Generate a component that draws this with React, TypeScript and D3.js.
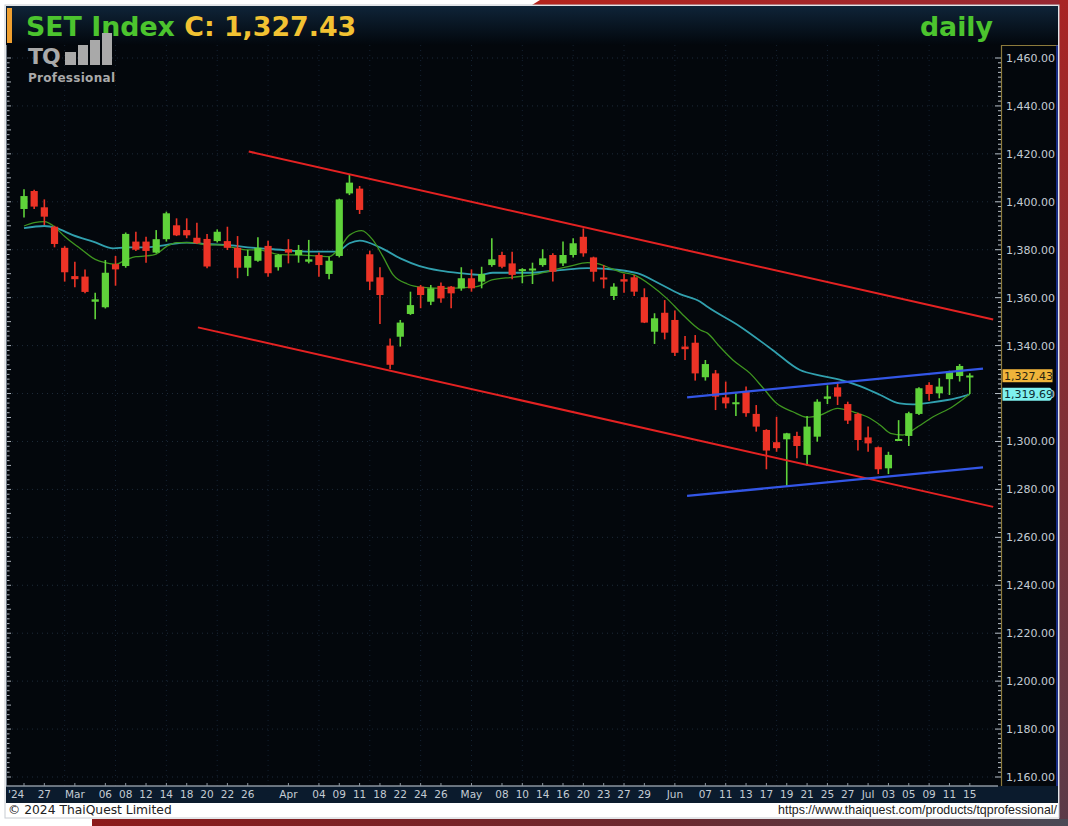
import React from "react";
import * as d3 from "d3";

const W = 1068;
const H = 826;

// ---- data ----
const openVals = [1397,1404.5,1397.7,1389.6,1380.8,1369,1368.8,1358.3,1356,1374,1373.2,1383.4,1383.4,1378.8,1384.4,1390.2,1388.2,1385,1384.5,1383.6,1383.6,1380.8,1372.5,1375.4,1381.6,1372.7,1380.2,1377.8,1375,1377.8,1369.9,1377.4,1403.5,1405.5,1378.1,1368.5,1340,1343.7,1353.2,1364.6,1358.3,1364.9,1364.6,1363.9,1368.1,1366.7,1373.6,1377.8,1374.3,1371.2,1371.5,1373.6,1377.8,1374.3,1377.8,1385.4,1376.8,1368.3,1360.7,1367.7,1368.5,1360.2,1345.8,1353.7,1350.7,1339.6,1341.2,1326.8,1328.4,1318.4,1315.6,1320.8,1311.5,1304.8,1299.7,1300.9,1302.3,1294.4,1302,1317.8,1322.6,1315.6,1311.5,1301.7,1297.6,1288.8,1300.3,1302.3,1311.5,1323.6,1320.1,1326,1327.3,1326.8];
const highVals = [1405.2,1405,1401,1390,1381.5,1375,1371.8,1362,1375.7,1377.4,1387.2,1387.5,1385.4,1388.2,1395.9,1393.1,1393.1,1391.3,1386.6,1388.5,1389.6,1385.7,1379.9,1385.2,1383.8,1378.2,1384.4,1382,1384.1,1378.8,1377.1,1401.3,1411.2,1406.6,1379.6,1372.7,1343,1350.7,1362.5,1365.3,1365.3,1366.3,1364.9,1372.7,1371.8,1372.9,1384.8,1379.2,1379.2,1372.3,1374.6,1380.2,1378.5,1383.4,1384.8,1388.9,1377.1,1373.6,1366,1369.9,1369.5,1363.9,1353.5,1359,1354.6,1344,1344.4,1334,1329.8,1325,1320.1,1322.9,1315.2,1305.1,1310.3,1303.6,1304.1,1310.6,1317.6,1323.4,1324.3,1316.6,1312,1306.2,1297.9,1295.7,1308.9,1312.4,1322.6,1324.7,1326.4,1329.5,1332.3,1328.5];
const lowVals = [1393.5,1397,1390.3,1381,1366.7,1364.3,1361.8,1351,1355.5,1365,1372.5,1379.5,1374.6,1378.5,1383.4,1385.7,1384.8,1382.4,1372.3,1383,1379.9,1368.1,1369,1375,1368.7,1371.3,1374.3,1374.6,1374.3,1368.7,1367.7,1376.8,1402.8,1394.9,1363.2,1349,1330.1,1339.6,1352.8,1355.6,1356.9,1357.9,1355.6,1362.9,1362.5,1363.9,1372.9,1372.3,1367.7,1366,1365.7,1372.9,1366.7,1373.2,1376.8,1377.1,1366.7,1363.9,1359,1362.1,1360.7,1349.4,1340.7,1342.6,1335.7,1334,1325.4,1325.4,1313.1,1313.8,1310.6,1310.3,1304.1,1288.4,1295.7,1281.1,1293,1289.8,1299.9,1315.6,1315.2,1307.3,1296.2,1295.7,1286.4,1286.4,1300.3,1298.1,1311,1317,1318,1319.4,1325,1319.8];
const closeVals = [1402.4,1398,1393.8,1382.4,1370.6,1367.7,1362.4,1359.3,1370.4,1371.8,1386.6,1380,1379.5,1384.4,1395.2,1386,1386,1382.7,1373,1387.5,1380.8,1372.5,1377.4,1380.8,1370.2,1377.8,1378.8,1379.9,1376,1373.6,1375.4,1401,1408,1396.6,1366.7,1361.1,1332,1349.6,1356.9,1361.1,1363.9,1359.7,1361.8,1368.1,1363.9,1369.9,1376,1372.9,1369.5,1371.8,1372,1376.4,1370.8,1377.8,1382.7,1378.5,1370.8,1367.7,1364.6,1366.7,1362.5,1349.6,1351.4,1345.4,1337,1338.5,1328.4,1332.3,1318.7,1315.9,1316.3,1311.8,1306.2,1296.2,1297.2,1303.4,1298.1,1306.2,1316.6,1318.8,1318.7,1308.7,1300.6,1299.2,1288.4,1294.4,1300.9,1311.8,1322.2,1319.8,1322.9,1329.1,1331.5,1327.43];

// fast moving average (green), [candle index, value]
const maFast: [number, number][] = [[0,1389.9],[1,1391.3],[2,1391.7],[3,1389.6],[4,1385.5],[5.5,1380.6],[7,1376],[8,1374.6],[9,1373.9],[10,1375.7],[11,1377.1],[12,1377.4],[13,1378.2],[14,1381.3],[15,1383],[16.6,1383],[18,1382],[19,1382],[20.5,1381],[22,1379.9],[23,1379.9],[25,1378.1],[27,1377.8],[29,1377.4],[30,1377.1],[31,1380.6],[32,1386.1],[33.2,1388.0],[34.3,1384.1],[35.3,1377.1],[36.3,1369.5],[37.7,1365.7],[39.2,1364.3],[41.6,1363.9],[44.5,1364.6],[46,1367.4],[48,1368.5],[50,1369.5],[52,1371.5],[53.7,1373.2],[55.4,1374.6],[56.3,1374.3],[57.3,1372.9],[58.6,1370.8],[60,1369.5],[61.6,1365.3],[63.2,1359.7],[64.8,1352.8],[66.5,1346.5],[67.2,1345.2],[68.4,1339.6],[69.7,1334],[71.4,1328.4],[72.7,1322.2],[74,1315.9],[75.6,1312.4],[77,1310.1],[78.3,1311],[80,1313.8],[81.5,1312.4],[82.9,1310.3],[84.2,1306.8],[85.2,1303.4],[86.4,1302.7],[87.8,1305.9],[89.4,1310.3],[91.3,1314.5],[93,1319.8]];
// slow moving average (cyan)
const maSlow: [number, number][] = [[0,1389],[2,1389.9],[3.2,1389],[4.8,1386.1],[6.8,1383.4],[8.8,1380.6],[10.1,1381],[12.1,1381],[14,1382],[16,1383],[18,1382.4],[20,1382],[22,1381],[23.2,1380.6],[24.5,1380.2],[28.4,1379.2],[30.8,1379.2],[32,1382.7],[33,1383.8],[35,1381],[37,1376.4],[38.9,1373.2],[40.9,1371.3],[42.9,1370.2],[44.8,1369.5],[46.1,1370.4],[49.5,1370.4],[52.7,1371.5],[55.4,1372.3],[57.3,1372],[60.3,1370.2],[62.5,1365.8],[64.5,1361.5],[66.5,1358.3],[67.2,1356.2],[70.4,1348],[73.6,1338.2],[76.3,1329.8],[78.3,1327.5],[80.2,1325.8],[82.2,1323.1],[84.2,1319.4],[86.1,1315.9],[87.4,1315.5],[89.1,1316.2],[90.8,1317.3],[92,1318.4],[93,1319.7]];

// trend lines [index, value]
const channelUpper: [number, number][] = [[22.1,1421.0],[95.3,1350.9]];
const channelLower: [number, number][] = [[17.1,1347.6],[95.3,1272.7]];
const rangeUpper: [number, number][] = [[65.2,1318.4],[94.3,1330.4]];
const rangeLower: [number, number][] = [[65.2,1277.3],[94.3,1289.2]];

const dateLabels: [number, string][] = [[0,"'24"],[2,"27"],[5,"Mar"],[8,"06"],[10,"08"],[12,"12"],[14,"14"],[16,"18"],[18,"20"],[20,"22"],[22,"26"],[26,"Apr"],[29,"04"],[31,"09"],[33,"11"],[35,"18"],[37,"22"],[39,"24"],[41,"26"],[44,"May"],[47,"08"],[49,"10"],[51,"14"],[53,"16"],[55,"20"],[57,"23"],[59,"27"],[61,"29"],[64,"Jun"],[67,"07"],[69,"11"],[71,"13"],[73,"17"],[75,"19"],[77,"21"],[79,"25"],[81,"27"],[83,"Jul"],[85,"03"],[87,"05"],[89,"09"],[91,"11"],[93,"15"]];
const priceTicks = [1160,1180,1200,1220,1240,1260,1280,1300,1320,1340,1360,1380,1400,1420,1440,1460];
const lastClose = 1327.43;
const lastMa = 1319.69;

// ---- scales ----
const x = d3.scaleLinear().domain([0, 93]).range([24, 969.8]);
const y = d3.scaleLinear().domain([1160, 1460]).range([777, 58]);

const UP = "#5fd23a";
const DOWN = "#ec3326";
const fmt = d3.format(",.2f");
const axisFont = "'DejaVu Sans', Verdana, sans-serif";
const titleFont = "'DejaVu Sans', 'Open Sans', sans-serif";

export default function App() {
  const lineGen = d3.line<[number, number]>().x(d => x(d[0])).y(d => y(d[1])).curve(d3.curveMonotoneX);
  const straight = d3.line<[number, number]>().x(d => x(d[0])).y(d => y(d[1]));
  const minorTicks = d3.range(1160, 1462, 2);

  return (
    <div style={{ position: "absolute", left: 0, top: 0, width: W, height: H }}>
      <svg width={W} height={H} style={{ display: "block" }}>
        <defs>
          <linearGradient id="titleGrad" x1="0" y1="0" x2="0" y2="1">
            <stop offset="0" stopColor="#0f2438" />
            <stop offset="1" stopColor="#02060b" />
          </linearGradient>
          <linearGradient id="bottomBand" x1="0" y1="0" x2="1" y2="0">
            <stop offset="0" stopColor="#8c1b1b" />
            <stop offset="0.6" stopColor="#6a2a30" />
            <stop offset="1" stopColor="#4a4a56" />
          </linearGradient>
          <linearGradient id="rightBand" x1="0" y1="0" x2="0" y2="1">
            <stop offset="0" stopColor="#a82424" />
            <stop offset="1" stopColor="#5a3a48" />
          </linearGradient>
          <linearGradient id="topBand" x1="0" y1="0" x2="1" y2="0">
            <stop offset="0" stopColor="#b4241c" />
            <stop offset="1" stopColor="#962832" />
          </linearGradient>
          <clipPath id="plotClip">
            <rect x={10} y={45} width={990} height={741} />
          </clipPath>
        </defs>

        {/* page frame */}
        <rect x={0} y={0} width={W} height={H} fill="#ffffff" />
        <polygon points={`532,5 540,0 ${W},0 ${W},5`} fill="url(#topBand)" />
        <rect x={1059} y={0} width={9} height={H} fill="url(#rightBand)" />
        <rect x={92} y={819} width={W - 92} height={7} fill="url(#bottomBand)" />

        {/* panel */}
        <rect x={5} y={5} width={1054} height={813} fill="#ffffff" stroke="#c8ccd2" strokeWidth={1} />
        <rect x={6} y={6} width={1052} height={40} fill="url(#titleGrad)" />
        <rect x={6} y={45} width={1052} height={741} fill="#03070c" />

        {/* grid */}
        <g clipPath="url(#plotClip)">
          {priceTicks.map(t => (
            <line key={"hg" + t} x1={12} x2={998} y1={y(t)} y2={y(t)} stroke="#1d2b3a" strokeWidth={1} strokeDasharray="1,4" />
          ))}
          {d3.range(4, 94, 5).map(i => (
            <line key={"vg" + i} x1={x(i)} x2={x(i)} y1={45} y2={786} stroke="#142232" strokeWidth={1} strokeDasharray="1,4" />
          ))}
        </g>

        {/* left mini scale */}
        <line x1={6.5} x2={6.5} y1={45} y2={786} stroke="#6d7884" strokeWidth={1} />
        {minorTicks.map(t => (
          <line key={"lt" + t} x1={7} x2={t % 10 === 0 ? 11 : 9.5} y1={y(t)} y2={y(t)} stroke="#aeb6be" strokeWidth={1} />
        ))}

        {/* title */}
        <rect x={7} y={8} width={5} height={35} fill="#f0a030" />
        <text x={26} y={36} fontFamily={titleFont} fontWeight={700} fontSize={26.8} fill="#4cc42e">SET Index <tspan fill="#f2c232">C: {d3.format(",.2f")(lastClose)}</tspan></text>
        <text x={993} y={36} textAnchor="end" fontFamily={titleFont} fontWeight={700} fontSize={26.8} fill="#4cc42e">daily</text>

        {/* logo */}
        <g fill="#a9a9a9">
          <text x={28} y={64} fontFamily={titleFont} fontWeight={700} fontSize={22} letterSpacing={-1}>TQ</text>
          <rect x={65} y={52} width={11} height={13} />
          <rect x={78} y={45} width={10} height={20} />
          <rect x={90} y={40} width={10} height={25} />
          <rect x={102} y={33} width={10} height={32} />
          <text x={28} y={81.5} fontFamily={titleFont} fontWeight={700} fontSize={12} letterSpacing={0.3}>Professional</text>
        </g>

        {/* plot */}
        <g clipPath="url(#plotClip)">
          {/* moving averages */}
          <path d={lineGen(maSlow) || ""} fill="none" stroke="#31a0ae" strokeWidth={1.8} />
          <path d={lineGen(maFast) || ""} fill="none" stroke="#3f9620" strokeWidth={1.3} />

          {/* candles */}
          {openVals.map((o, i) => {
            const c = closeVals[i];
            const col = c >= o ? UP : DOWN;
            const top = y(Math.max(o, c));
            const bot = y(Math.min(o, c));
            const h = Math.max(2, bot - top);
            return (
              <g key={"c" + i}>
                <line x1={x(i)} x2={x(i)} y1={y(highVals[i])} y2={y(lowVals[i])} stroke={col} strokeWidth={1.6} />
                <rect x={x(i) - 3.6} y={h === 2 ? (top + bot) / 2 - 1 : top} width={7.2} height={h} fill={col} />
              </g>
            );
          })}

          {/* trend lines */}
          <path d={straight(channelUpper) || ""} stroke="#e42222" strokeWidth={2} fill="none" />
          <path d={straight(channelLower) || ""} stroke="#e42222" strokeWidth={2} fill="none" />
          <path d={straight(rangeUpper) || ""} stroke="#3356e6" strokeWidth={2.4} fill="none" />
          <path d={straight(rangeLower) || ""} stroke="#3356e6" strokeWidth={2.4} fill="none" />
        </g>

        {/* right axis */}
        <rect x={1001} y={45} width={57} height={741} fill="#03070c" />
        <line x1={1001.5} x2={1001.5} y1={45} y2={786} stroke="#8c7a3c" strokeWidth={1.2} />
        <line x1={1001} x2={1058} y1={45.5} y2={45.5} stroke="#8c7a3c" strokeWidth={1.2} />
        <line x1={1057} x2={1057} y1={45} y2={786} stroke="#2848d8" strokeWidth={1.2} />
        {minorTicks.map(t => (
          <line key={"rt" + t} x1={t % 20 === 0 ? 995 : 998} x2={1001} y1={y(t)} y2={y(t)} stroke="#b8c0c8" strokeWidth={1} />
        ))}
        {priceTicks.map(t => (
          <text key={"pl" + t} x={1006} y={y(t) + 4} fontFamily={axisFont} fontSize={11} fill="#c4ccd4">{fmt(t)}</text>
        ))}

        {/* last value tags */}
        <rect x={1002.5} y={y(lastClose) - 6.5} width={50} height={13} fill="#f0b43a" />
        <text x={1004} y={y(lastClose) + 4} fontFamily={axisFont} fontSize={11} fill="#2a2410">{fmt(lastClose)}</text>
        <path d={`M1002.5,${y(lastMa) - 6.5} h47 a3,6.5 0 0 1 0,13 h-47 z`} fill="#7ef0ee" />
        <text x={1004} y={y(lastMa) + 4} fontFamily={axisFont} fontSize={11} fill="#0c2a30">{fmt(lastMa)}</text>

        {/* bottom axis */}
        <rect x={6} y={786} width={1052} height={17} fill="#0b1b2d" />
        <line x1={6} x2={998} y1={786} y2={786} stroke="#8d969f" strokeWidth={1.5} />
        {dateLabels.map(([i]) => (
          <line key={"xt" + i} x1={x(i)} x2={x(i)} y1={783} y2={786} stroke="#8d969f" strokeWidth={1} />
        ))}
        {dateLabels.map(([i, s]) => (
          <text key={"xl" + i} x={i === 0 ? 8 : x(i)} y={798} textAnchor={i === 0 ? "start" : "middle"} fontFamily={axisFont} fontSize={10.5} fill="#c4ccd4">{s}</text>
        ))}

        {/* footer */}
        <text x={8} y={814} fontFamily={axisFont} fontSize={12.3} fill="#222">© 2024 ThaiQuest Limited</text>
        <text x={1057} y={814} textAnchor="end" fontFamily="'Liberation Sans', Arial, sans-serif" fontSize={12.4} fill="#222">https://www.thaiquest.com/products/tqprofessional/</text>
      </svg>
    </div>
  );
}
